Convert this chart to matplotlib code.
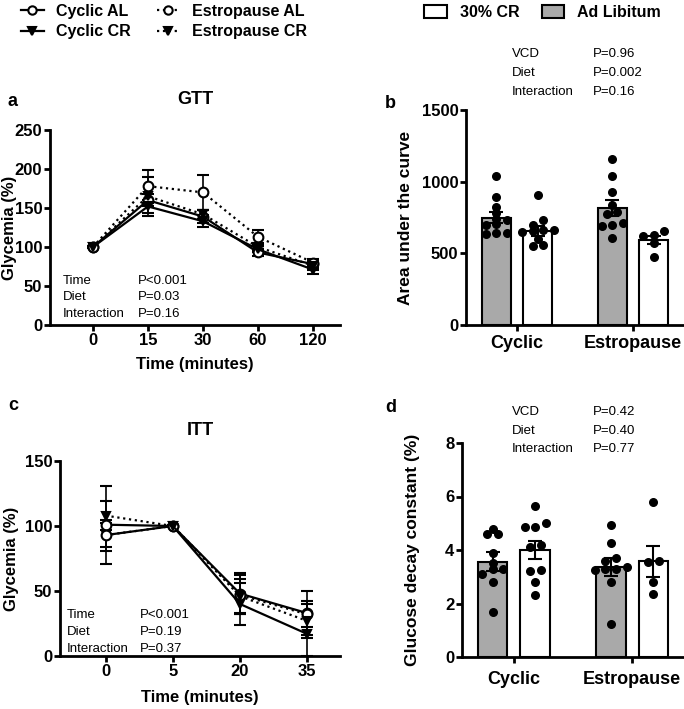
import matplotlib
matplotlib.use("Agg")
import matplotlib.pyplot as plt
from matplotlib.lines import Line2D
from matplotlib.patches import Patch
import numpy as np

plt.rcParams['font.family'] = ['Liberation Sans', 'DejaVu Sans']

# ---- data ----
groups = ["Cyclic AL", "Cyclic CR", "Estropause AL", "Estropause CR"]

gtt_times = ["0", "15", "30", "60", "120"]
gtt_mean = {
    "Cyclic AL": [100, 160, 139, 93, 78],
    "Cyclic CR": [100, 152, 133, 97, 71],
    "Estropause AL": [100, 178, 170, 113, 80],
    "Estropause CR": [100, 165, 142, 100, 76],
}
gtt_err = {
    "Cyclic AL": [1, 8, 8, 4, 5],
    "Cyclic CR": [1, 8, 8, 4, 6],
    "Estropause AL": [1, 21, 22, 9, 5],
    "Estropause CR": [1, 25, 6, 5, 5],
}

itt_times = ["0", "5", "20", "35"]
itt_mean = {
    "Cyclic AL": [101, 100, 48, 33],
    "Cyclic CR": [93, 100, 40, 17],
    "Estropause AL": [93, 100, 47, 32],
    "Estropause CR": [108, 100, 46, 27],
}
itt_err = {
    "Cyclic AL": [30, 1, 16, 17],
    "Cyclic CR": [12, 1, 16, 17],
    "Estropause AL": [9, 1, 15, 10],
    "Estropause CR": [11, 1, 13, 13],
}

cohorts = ["Cyclic", "Estropause"]

auc_al_mean = [750, 818]
auc_al_sem = [40, 57]
auc_cr_mean = [655, 593]
auc_cr_sem = [35, 30]
auc_al_pts = [[1040, 895, 825, 780, 740, 735, 705, 700, 640, 635, 640],
              [1155, 1040, 925, 840, 790, 775, 710, 700, 690, 610]]
auc_cr_pts = [[905, 730, 700, 665, 660, 655, 650, 600, 560, 550],
              [655, 625, 620, 570, 475]]

kitt_al_mean = [3.56, 3.37]
kitt_al_sem = [0.35, 0.33]
kitt_cr_mean = [4.0, 3.58]
kitt_cr_sem = [0.35, 0.58]
kitt_al_pts = [[4.8, 4.6, 4.6, 3.9, 3.5, 3.3, 3.3, 3.1, 2.8, 1.7],
               [4.95, 4.25, 3.7, 3.6, 3.35, 3.3, 3.3, 3.25, 2.8, 1.25]]
kitt_cr_pts = [[5.65, 5.0, 4.85, 4.85, 4.2, 4.1, 3.25, 3.2, 2.8, 2.3],
               [5.8, 3.6, 3.55, 2.8, 2.35]]

gtt_stats = [("Time", "P<0.001"), ("Diet", "P=0.03"), ("Interaction", "P=0.16")]
itt_stats = [("Time", "P<0.001"), ("Diet", "P=0.19"), ("Interaction", "P=0.37")]
auc_stats = [("VCD", "P=0.96"), ("Diet", "P=0.002"), ("Interaction", "P=0.16")]
kitt_stats = [("VCD", "P=0.42"), ("Diet", "P=0.40"), ("Interaction", "P=0.77")]

styles = {
    "Cyclic AL": dict(ls="-", marker="o", mfc="white"),
    "Cyclic CR": dict(ls="-", marker="v", mfc="black"),
    "Estropause AL": dict(ls=":", marker="o", mfc="white"),
    "Estropause CR": dict(ls=":", marker="v", mfc="black"),
}
GRAY = "#a9a9a9"
TICK_FS = 12
LAB_FS = 12

fig = plt.figure(figsize=(6.84, 7.09), dpi=100)
W, H = 684, 709


def ax_px(l, t, r, b):
    return fig.add_axes([l / W, 1 - b / H, (r - l) / W, (b - t) / H])


def style_axes(ax):
    for s in ("top", "right"):
        ax.spines[s].set_visible(False)
    for s in ("left", "bottom"):
        ax.spines[s].set_linewidth(2)
    ax.tick_params(width=2, length=4, labelsize=TICK_FS, pad=1.5)
    for lab in ax.get_xticklabels() + ax.get_yticklabels():
        lab.set_fontweight("bold")


def line_panel(ax, times, means, errs, ylim, yticks, xl, ylab_x, xpad):
    x = np.arange(len(times))
    for g in groups:
        st = styles[g]
        ax.errorbar(x, means[g], yerr=errs[g], color="black", lw=1.6,
                    ls=st["ls"], marker=st["marker"], mfc=st["mfc"], mec="black",
                    ms=7 if st["marker"] == "o" else 6, mew=1.5,
                    elinewidth=1.2, capsize=4, capthick=1.2, clip_on=False)
    ax.set_xticks(x)
    ax.set_xticklabels(times)
    ax.set_xlim(*xl)
    ax.set_ylim(*ylim)
    ax.set_yticks(yticks)
    ax.set_ylabel("Glycemia (%)", fontsize=LAB_FS, fontweight="bold")
    ax.yaxis.set_label_coords(ylab_x, 0.5)
    ax.set_xlabel("Time (minutes)", fontsize=LAB_FS, fontweight="bold", labelpad=xpad)
    style_axes(ax)


def swarm(vals, center, tol, step=0.09):
    vals = np.asarray(vals, dtype=float)
    order = np.argsort(vals)
    xs = np.zeros(len(vals))
    rows = []
    for i in order:
        if rows and vals[i] - vals[rows[-1][0]] < tol:
            rows[-1].append(i)
        else:
            rows.append([i])
    for row in rows:
        n = len(row)
        for k, i in enumerate(row):
            xs[i] = center + (k - (n - 1) / 2) * step
    return xs


def bar_panel(ax, al_m, al_s, cr_m, cr_s, al_p, cr_p, ylim, yticks, ylabel, tol, ylab_x, xpad):
    x = np.arange(len(cohorts))
    off, bw = 0.18, 0.25
    ax.bar(x - off, al_m, width=bw, color=GRAY, edgecolor="black", lw=1.5, zorder=1)
    ax.bar(x + off, cr_m, width=bw, color="white", edgecolor="black", lw=1.5, zorder=1)
    ax.errorbar(x - off, al_m, yerr=al_s, fmt="none", ecolor="black",
                elinewidth=1.5, capsize=5, capthick=1.5, zorder=3)
    ax.errorbar(x + off, cr_m, yerr=cr_s, fmt="none", ecolor="black",
                elinewidth=1.5, capsize=5, capthick=1.5, zorder=3)
    for i in range(len(cohorts)):
        ax.scatter(swarm(al_p[i], x[i] - off, tol), al_p[i], s=30, color="black", zorder=4)
        ax.scatter(swarm(cr_p[i], x[i] + off, tol), cr_p[i], s=30, color="black", zorder=4)
    ax.set_xticks(x)
    ax.set_xticklabels(cohorts)
    ax.set_xlim(-0.44, 1.44)
    ax.set_ylim(*ylim)
    ax.set_yticks(yticks)
    ax.set_ylabel(ylabel, fontsize=LAB_FS + 0.5, fontweight="bold")
    ax.yaxis.set_label_coords(ylab_x, 0.5)
    style_axes(ax)
    ax.tick_params(axis="x", pad=xpad)
    for lab in ax.get_xticklabels():
        lab.set_fontsize(13)


def stats_text(x1, x2, y, rows, dy=17.5):
    for k, (a, b) in enumerate(rows):
        fig.text(x1 / W, 1 - (y + k * dy) / H, a, fontsize=9.5, va="center")
        fig.text(x2 / W, 1 - (y + k * dy) / H, b, fontsize=9.5, va="center")


# panel a - GTT
ax_a = ax_px(50, 130, 340, 325)
line_panel(ax_a, gtt_times, gtt_mean, gtt_err, (0, 250), [0, 50, 100, 150, 200, 250],
           (-0.78, 4.49), -0.114, 7)
ax_a.set_title("GTT", fontsize=13, fontweight="bold", pad=19)
stats_text(63, 138, 281, gtt_stats, dy=16.5)

# panel c - ITT
ax_c = ax_px(60, 461, 340, 656)
line_panel(ax_c, itt_times, itt_mean, itt_err, (0, 150), [0, 50, 100, 150],
           (-0.68, 3.49), -0.146, 8)
ax_c.set_title("ITT", fontsize=13, fontweight="bold", pad=19)
stats_text(67, 140, 615, itt_stats, dy=17)

# panel b - AUC
ax_b = ax_px(466, 110, 684, 325)
bar_panel(ax_b, auc_al_mean, auc_al_sem, auc_cr_mean, auc_cr_sem, auc_al_pts, auc_cr_pts,
          (0, 1500), [0, 500, 1000, 1500], "Area under the curve", 40, -0.244, 3)
stats_text(512, 593, 54, auc_stats, dy=19)

# panel d - kITT
ax_d = ax_px(462, 443, 684, 657)
bar_panel(ax_d, kitt_al_mean, kitt_al_sem, kitt_cr_mean, kitt_cr_sem, kitt_al_pts, kitt_cr_pts,
          (0, 8), [0, 2, 4, 6, 8], "Glucose decay constant (%)", 0.2, -0.19, 6)
stats_text(512, 593, 412, kitt_stats, dy=18.5)

# panel letters
for lab, (px, py) in zip("abcd", [(8, 101), (385, 103), (8, 406), (385, 407)]):
    fig.text(px / W, 1 - py / H, lab, fontsize=13, fontweight="bold", va="center")

# legends
line_handles = [Line2D([], [], color="black", lw=1.6, ls=styles[g]["ls"],
                       marker=styles[g]["marker"], mfc=styles[g]["mfc"], mec="black",
                       ms=6, mew=1.5) for g in groups]
fig.legend(line_handles, groups, loc="upper left", bbox_to_anchor=(0.01, 1.015), ncol=2,
           frameon=False, handlelength=1.4, handletextpad=0.8, columnspacing=1.6,
           labelspacing=0.35, prop=dict(size=11.5, weight="bold"))

bar_handles = [Patch(facecolor="white", edgecolor="black", lw=1.5),
               Patch(facecolor=GRAY, edgecolor="black", lw=1.5)]
fig.legend(bar_handles, ["30% CR", "Ad Libitum"], loc="upper left",
           bbox_to_anchor=(410 / W, 1.013), ncol=2, frameon=False,
           handlelength=1.4, handleheight=0.9, handletextpad=0.8, columnspacing=1.4,
           prop=dict(size=11.5, weight="bold"))

fig.savefig("out.png", dpi=100)
